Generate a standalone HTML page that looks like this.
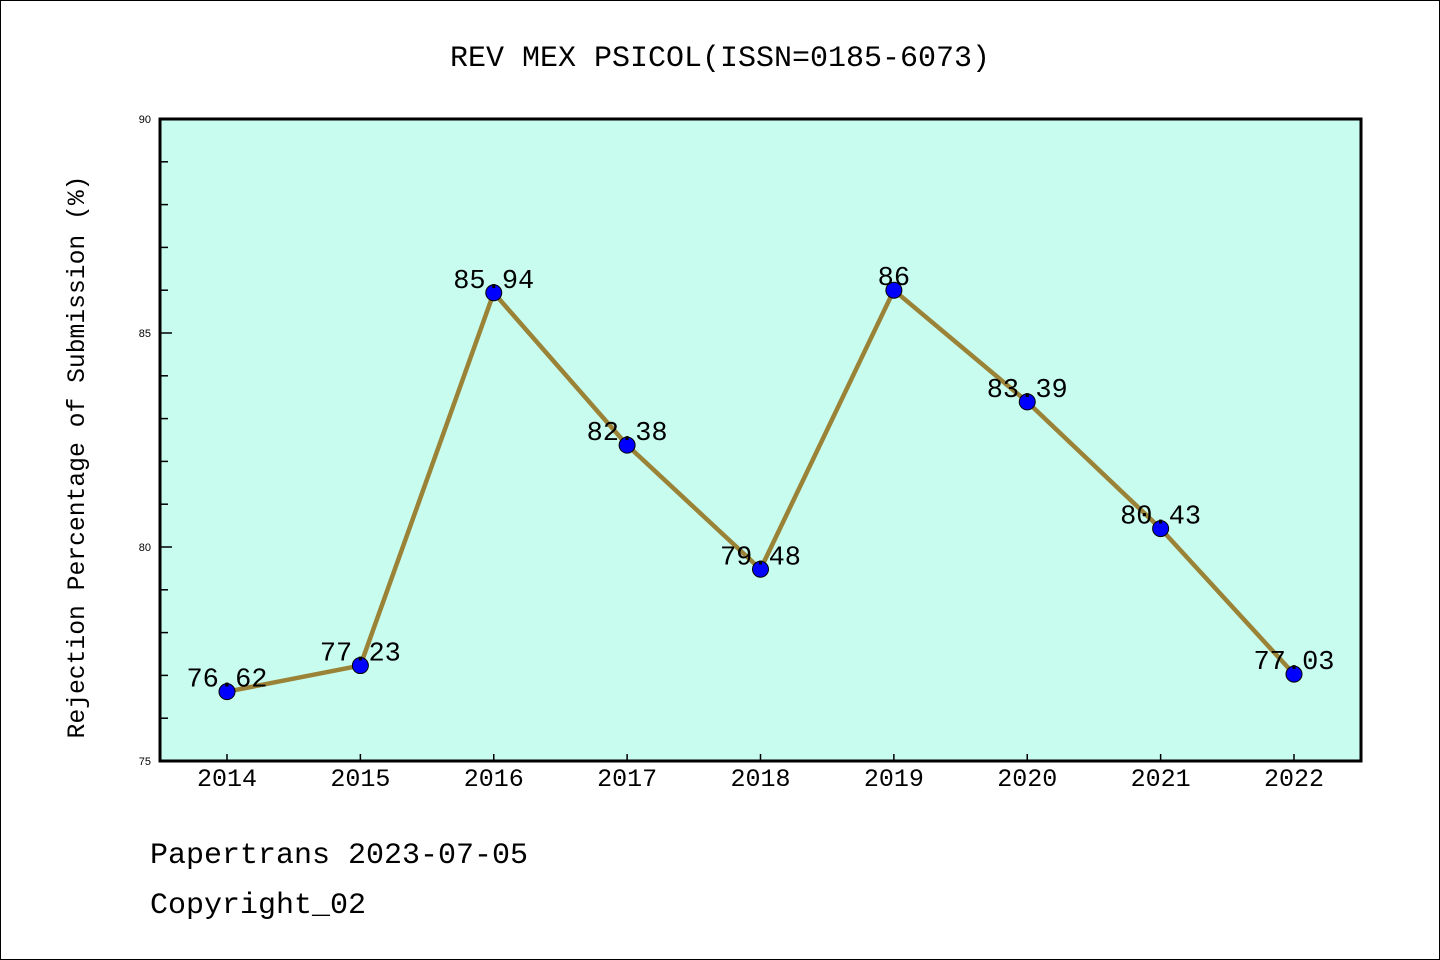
<!DOCTYPE html>
<html><head><meta charset="utf-8"><style>
body{margin:0;background:#fff}
svg{display:block;font-family:"Liberation Mono","DejaVu Sans Mono",monospace}
</style></head><body>
<svg id="c" width="1440" height="960" xmlns="http://www.w3.org/2000/svg">
<rect x="0.5" y="0.5" width="1439" height="959" fill="#fff" stroke="#000"/>
<text x="720" y="66" font-size="30" text-anchor="middle">REV MEX PSICOL(ISSN=0185-6073)</text>
<rect x="160" y="119" width="1201" height="642" fill="#c8fcee"/>
<g id="ax"></g>
<rect x="160" y="119" width="1201" height="642" fill="none" stroke="#000" stroke-width="3"/>
<text transform="translate(84,457) rotate(-90)" font-size="24.7" text-anchor="middle">Rejection Percentage of Submission (%)</text>
<text x="150" y="863" font-size="30">Papertrans 2023-07-05</text>
<text x="150" y="913" font-size="30">Copyright_02</text>
</svg>
<script>
const categories=["2014","2015","2016","2017","2018","2019","2020","2021","2022"];
const values=[76.62,77.23,85.94,82.38,79.48,86,83.39,80.43,77.03];
const labels=["76.62","77.23","85.94","82.38","79.48","86","83.39","80.43","77.03"];
const yTicks=[75,80,85,90];
const NS="http://www.w3.org/2000/svg";
const g=document.getElementById('ax');
const x=i=>227+i*(1294-227)/(categories.length-1);
const y=v=>761-(v-75)*(642/15);
function mk(t,a,txt){const e=document.createElementNS(NS,t);for(const k in a)e.setAttribute(k,a[k]);if(txt!=null)e.textContent=txt;g.appendChild(e);return e;}
for(let v=75;v<=90;v++){
 const l=mk('line',{x1:160,x2:160+(v%5===0?12:8),y1:y(v),y2:y(v),stroke:'#000','stroke-width':1.5});
 
 
}
yTicks.forEach(v=>{
 const t=mk('text',{x:151,y:y(v)+4,'font-size':11,'text-anchor':'end','font-family':'Liberation Sans, sans-serif'},String(v));
 
 
});
categories.forEach((c,i)=>{
 const l=mk('line',{x1:x(i),x2:x(i),y1:761,y2:754,stroke:'#000','stroke-width':1.5});
 
 
 const t=mk('text',{x:x(i),y:786,'font-size':25,'text-anchor':'middle'},c);
 
 
});
const pl=mk('polyline',{points:values.map((v,i)=>x(i)+','+y(v)).join(' '),fill:'none',stroke:'#9a8236','stroke-width':4.5,'stroke-linejoin':'round'});


values.forEach((v,i)=>{
 const c=mk('circle',{cx:x(i),cy:y(v),r:8,fill:'#0000ff',stroke:'#000','stroke-width':1});
 
 
 const t=mk('text',{x:x(i),y:y(v)-5,'font-size':27,'text-anchor':'middle'},labels[i]);
 
 
});
</script>
</body></html>
